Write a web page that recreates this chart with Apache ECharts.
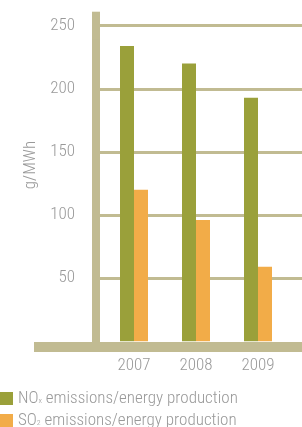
<!DOCTYPE html>
<html>
<head>
<meta charset="utf-8">
<script src="https://cdn.jsdelivr.net/npm/echarts@6/dist/echarts.min.js"></script>
<style>
  html, body { margin: 0; padding: 0; background: #fff; }
  #main { width: 302px; height: 427px; }
</style>
</head>
<body>
<div id="main"></div>
<script>
// chart data
var years = ['2007', '2008', '2009'];
var noxValues = [234, 220, 193];
var so2Values = [120, 96, 59];
var seriesNames = ['NOx emissions/energy production', 'SO2 emissions/energy production'];
var yTicks = [0, 50, 100, 150, 200, 250];

var FONT = "'Roboto Condensed', 'DejaVu Sans Condensed', sans-serif";
var AXIS = '#c1bb92';
var TEXT = '#999999';

var myChart = echarts.init(document.getElementById('main'));

// legend text with subscripts
function legendLabel(name) {
    if (name === seriesNames[0]) {
        return '{a|NO}{s|x}{a| emissions/energy production}';
    }
    return '{a|SO}{s|2}{a| emissions/energy production}';
}

function makeLegend(name, top) {
    return {
        left: 0,
        top: top,
        padding: 0,
        itemWidth: 13,
        itemHeight: 13,
        icon: 'rect',
        data: [name],
        formatter: legendLabel,
        textStyle: {
            rich: {
                a: { fontFamily: FONT, fontWeight: 300, fontSize: 17, color: TEXT, lineHeight: 13 },
                s: { fontFamily: FONT, fontWeight: 300, fontSize: 8, color: TEXT, lineHeight: -3, verticalAlign: 'bottom' }
            }
        }
    };
}

var option = {
    animation: false,
    grid: [
        // frame: y axis bar and gridlines
        { left: 96, right: 0, top: 25.7, bottom: 85.7 },
        // bars (bottom edge is the centre of the thick x axis bar)
        { left: 103, right: 13, top: 25.7, bottom: 80 }
    ],
    legend: [
        makeLegend(seriesNames[0], 390),
        makeLegend(seriesNames[1], 412)
    ],
    xAxis: [
        { gridIndex: 0, type: 'value', min: 0, max: 1, show: false },
        {
            gridIndex: 1,
            type: 'category',
            data: years,
            axisLine: {
                onZero: false,
                lineStyle: { color: AXIS, width: 10 },
                symbol: ['rect', 'rect'],
                symbolSize: [10, 138]
            },
            axisTick: { show: false },
            axisLabel: { color: TEXT, fontFamily: FONT, fontWeight: 300, fontSize: 17, margin: 10 }
        }
    ],
    yAxis: [
        {
            gridIndex: 0,
            type: 'value',
            min: yTicks[0],
            max: yTicks[yTicks.length - 1],
            interval: 50,
            name: 'g/MWh',
            nameLocation: 'middle',
            nameGap: 57,
            nameRotate: 90,
            nameTextStyle: { color: TEXT, fontFamily: FONT, fontWeight: 300, fontSize: 17, padding: [0, 0, 0, 37] },
            axisLine: {
                show: true,
                lineStyle: { color: AXIS, width: 8 },
                symbol: ['none', 'rect'],
                symbolSize: [8, 28]
            },
            axisTick: { show: false },
            axisLabel: {
                color: TEXT, fontFamily: FONT, fontWeight: 300, fontSize: 17, margin: 21,
                formatter: function (v) { return v === 0 ? '' : v; }
            },
            splitLine: {
                show: true,
                lineStyle: { color: ['rgba(0,0,0,0)', AXIS, AXIS, AXIS, AXIS, AXIS], width: 3 }
            }
        },
        {
            gridIndex: 1,
            type: 'value',
            min: -4.5,
            max: yTicks[yTicks.length - 1],
            show: false,
            splitLine: { show: false }
        }
    ],
    series: [
        {
            name: seriesNames[0],
            type: 'bar',
            xAxisIndex: 1,
            yAxisIndex: 1,
            barWidth: 14,
            barGap: '0%',
            itemStyle: { color: '#9aa03a' },
            data: noxValues
        },
        {
            name: seriesNames[1],
            type: 'bar',
            xAxisIndex: 1,
            yAxisIndex: 1,
            barWidth: 14,
            barGap: '0%',
            itemStyle: { color: '#f2ac48' },
            data: so2Values
        }
    ]
};

myChart.setOption(option);
</script>
</body>
</html>
